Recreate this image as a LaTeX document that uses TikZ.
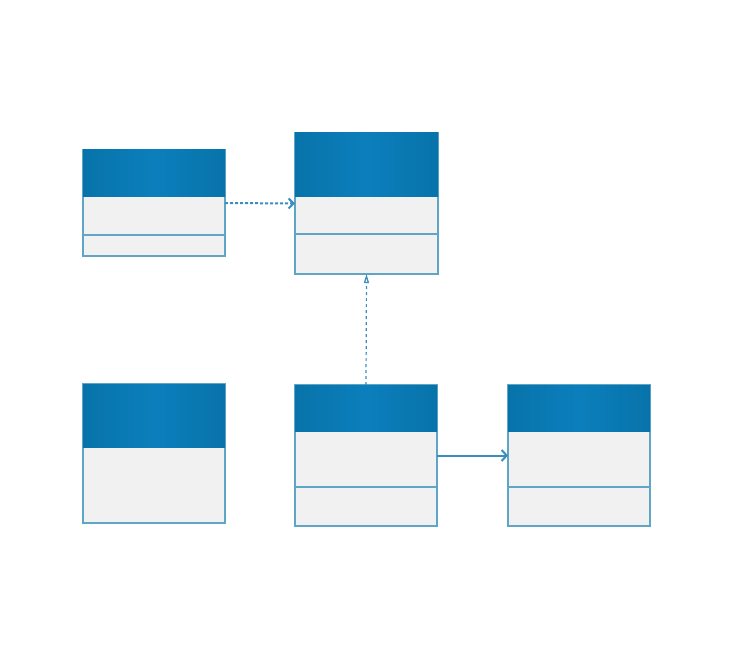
\documentclass[tikz,border=0pt]{standalone}
\usetikzlibrary{arrows.meta}
\definecolor{hdark}{HTML}{0873AA}
\definecolor{hlight}{HTML}{0B7FBC}
\definecolor{bodyc}{HTML}{F1F1F1}
\definecolor{edgec}{HTML}{5FA6C6}
\definecolor{linec}{HTML}{3A8DBD}
\tikzset{
  umlbox/.style={draw=edgec, line width=1.4pt, fill=bodyc, inner sep=0pt, outer sep=0pt},
  hdr/.style={left color=hdark, right color=hdark, middle color=hlight},
  divline/.style={draw=edgec, line width=1.2pt},
  depend/.style={draw=linec, line width=2pt, densely dashed, -{Straight Barb[length=5pt,width=10pt]}},
  realize/.style={draw=linec, line width=1.2pt, dashed, -{Triangle[open,length=9pt,width=5pt]}},
  assoc/.style={draw=linec, line width=2pt, -{Straight Barb[length=5pt,width=11pt]}}
}
\begin{document}
\begin{tikzpicture}[x=1pt,y=-1pt]
\useasboundingbox (0,0) rectangle (730,663);
\fill[white] (0,0) rectangle (730,663);
% boxes
\node[umlbox, minimum width=142pt, minimum height=106pt] (A) at (154,203) {};
\node[umlbox, minimum width=143pt, minimum height=141pt] (B) at (366.5,203.5) {};
\node[umlbox, minimum width=142pt, minimum height=139pt] (C) at (154,453.5) {};
\node[umlbox, minimum width=142pt, minimum height=141pt] (D) at (366,455.5) {};
\node[umlbox, minimum width=142pt, minimum height=141pt] (E) at (579,455.5) {};
% headers
\shade[hdr] (A.north west) rectangle (225,196);
\shade[hdr] (B.north west) rectangle (438,196);
\shade[hdr] (C.north west) rectangle (225,447);
\shade[hdr] (D.north west) rectangle (437,431);
\shade[hdr] (E.north west) rectangle (650,431);
% dividers
\draw[divline] (83,235) -- (225,235);
\draw[divline] (295,234) -- (438,234);
\draw[divline] (295,487) -- (437,487);
\draw[divline] (508,487) -- (650,487);
% connectors
\draw[depend] (A.east) -- (B.west);
\draw[realize] (D.north) -- (B.south);
\draw[assoc] (D.east) -- (E.west);
\end{tikzpicture}
\end{document}
